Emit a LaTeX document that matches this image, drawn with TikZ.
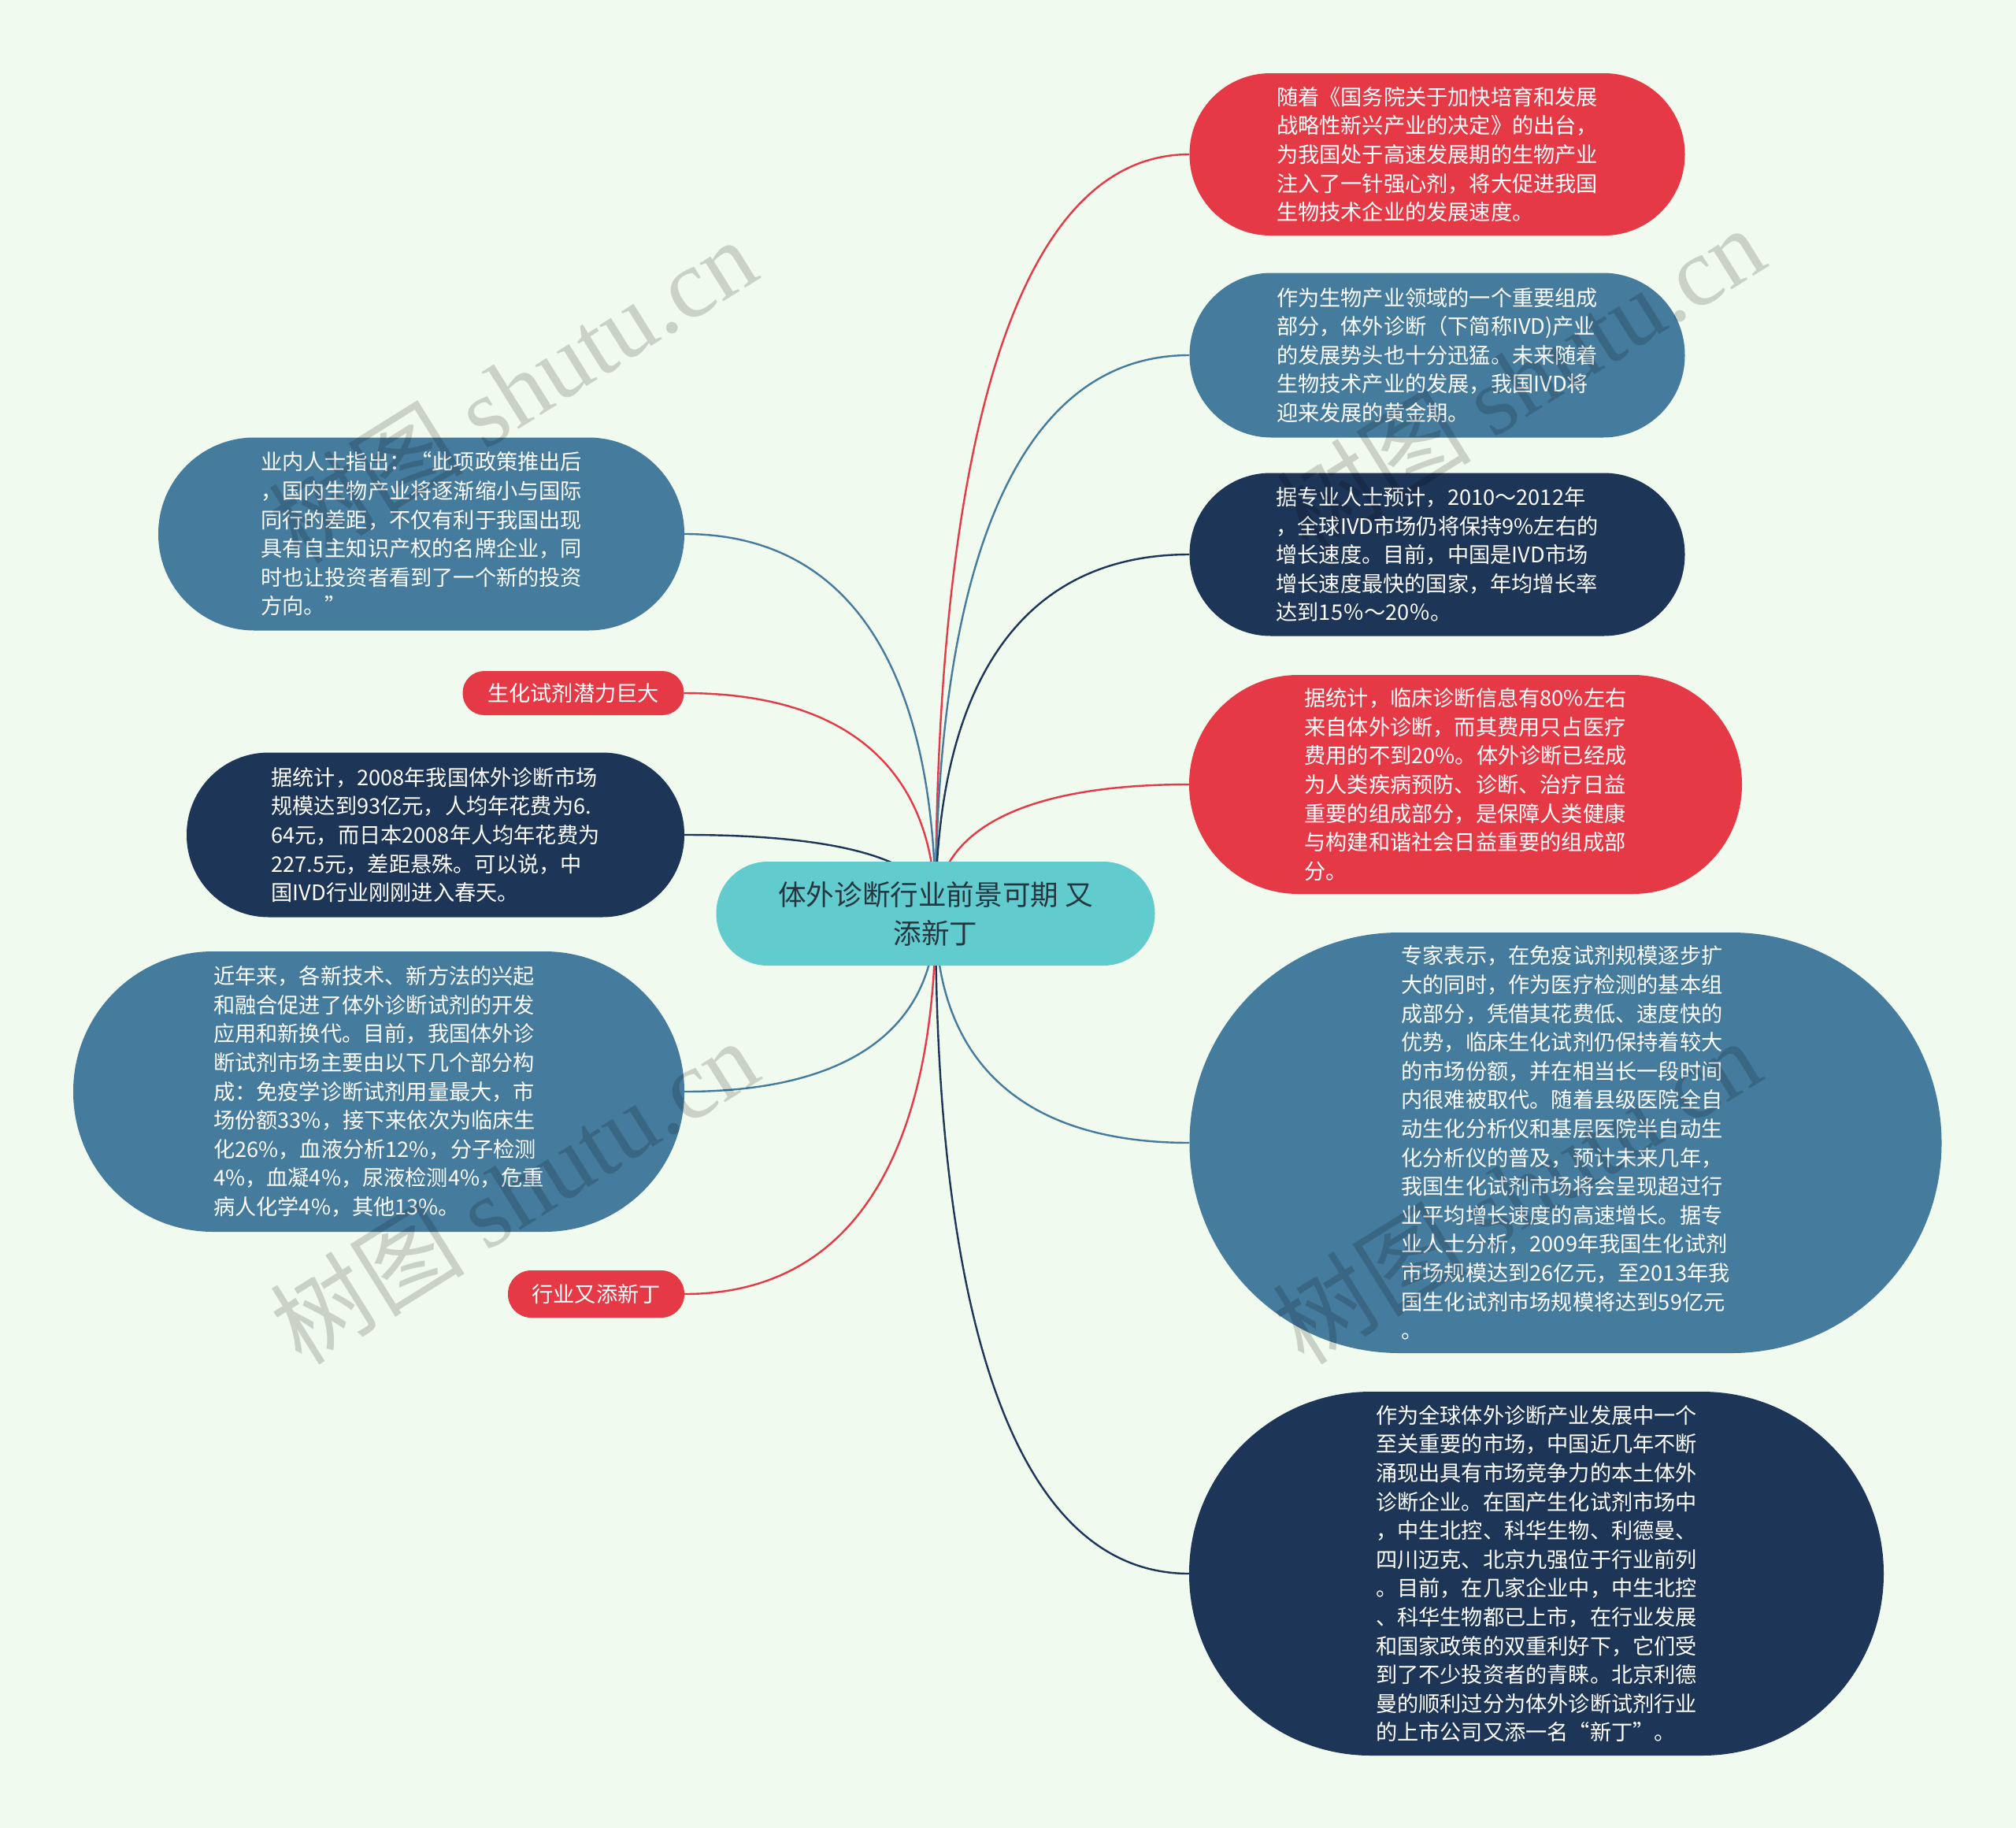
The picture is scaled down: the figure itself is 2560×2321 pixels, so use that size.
\documentclass[tikz,border=0pt]{standalone}
\usepackage{fontspec}
\setmainfont{Noto Sans CJK SC}
\newfontfamily\wmserif{Liberation Serif}
\usetikzlibrary{calc}
\definecolor{bgc}{HTML}{F1FAEE}
\definecolor{cred}{HTML}{E63946}
\definecolor{cblue}{HTML}{457B9D}
\definecolor{cnavy}{HTML}{1D3557}
\definecolor{cteal}{HTML}{62CBCE}
\definecolor{ctext}{HTML}{263640}
\pgfdeclarelayer{back}
\pgfdeclarelayer{bg}
\pgfsetlayers{back,bg,main}
\newcommand\bodyfont{\fontsize{27.2}{36.6}\selectfont}
\newcommand\linkto[3]{%
  \draw[link,#1] (root.center) .. controls ($(root.center)!0.6!(root.center |- #2.#3)$) and ($(#2.#3)!0.7!(root.center |- #2.#3)$) .. (#2.#3);}
\tikzset{
  pill/.style={rectangle, inner sep=0pt, text=white, align=left, font=\bodyfont},
  link/.style={line width=2.4pt},
  wm/.style={text=black, text opacity=0.16, inner sep=0pt, rotate=32, font=\fontsize{124}{124}\selectfont}
}
\begin{document}
\begin{tikzpicture}[x=1pt,y=-1pt]
\begin{pgfonlayer}{back}
\fill[bgc] (0,0) rectangle (2560,2321);
\end{pgfonlayer}
\useasboundingbox (0,0) rectangle (2560,2321);

% root
\node[rectangle, inner sep=0pt, fill=cteal, rounded corners=65.5pt, minimum width=557pt, minimum height=132pt, text=ctext, align=center, font=\fontsize{35.6}{49}\selectfont] (root) at (1188,1160) {体外诊断行业前景可期 又\\添新丁};

% right side
\node[pill, fill=cred, rounded corners=102.5pt, minimum width=629pt, minimum height=206pt] (r1) at (1825,196) {随着《国务院关于加快培育和发展\\战略性新兴产业的决定》的出台，\\为我国处于高速发展期的生物产业\\注入了一针强心剂，将大促进我国\\生物技术企业的发展速度。};

\node[pill, fill=cblue, rounded corners=104pt, minimum width=629pt, minimum height=209pt] (r2) at (1825,451) {作为生物产业领域的一个重要组成\\部分，体外诊断（下简称IVD)产业\\的发展势头也十分迅猛。未来随着\\生物技术产业的发展，我国IVD将\\迎来发展的黄金期。};

\node[pill, fill=cnavy, rounded corners=103pt, minimum width=629pt, minimum height=207pt] (r3) at (1825,704) {据专业人士预计，2010～2012年\\，全球IVD市场仍将保持9\%左右的\\增长速度。目前，中国是IVD市场\\增长速度最快的国家，年均增长率\\达到15％～20％。};

\node[pill, fill=cred, rounded corners=138.5pt, minimum width=702pt, minimum height=278pt] (r4) at (1861,996) {据统计，临床诊断信息有80\%左右\\来自体外诊断，而其费用只占医疗\\费用的不到20\%。体外诊断已经成\\为人类疾病预防、诊断、治疗日益\\重要的组成部分，是保障人类健康\\与构建和谐社会日益重要的组成部\\分。};

\node[pill, fill=cblue, rounded corners=266.5pt, minimum width=955pt, minimum height=534pt] (r5) at (1988,1451) {专家表示，在免疫试剂规模逐步扩\\大的同时，作为医疗检测的基本组\\成部分，凭借其花费低、速度快的\\优势，临床生化试剂仍保持着较大\\的市场份额，并在相当长一段时间\\内很难被取代。随着县级医院全自\\动生化分析仪和基层医院半自动生\\化分析仪的普及，预计未来几年，\\我国生化试剂市场将会呈现超过行\\业平均增长速度的高速增长。据专\\业人士分析，2009年我国生化试剂\\市场规模达到26亿元，至2013年我\\国生化试剂市场规模将达到59亿元\\。};

\node[pill, fill=cnavy, rounded corners=230.5pt, minimum width=882pt, minimum height=462pt] (r6) at (1951,1998) {作为全球体外诊断产业发展中一个\\至关重要的市场，中国近几年不断\\涌现出具有市场竞争力的本土体外\\诊断企业。在国产生化试剂市场中\\，中生北控、科华生物、利德曼、\\四川迈克、北京九强位于行业前列\\。目前，在几家企业中，中生北控\\、科华生物都已上市，在行业发展\\和国家政策的双重利好下，它们受\\到了不少投资者的青睐。北京利德\\曼的顺利过分为体外诊断试剂行业\\的上市公司又添一名“新丁”。};

% left side
\node[pill, fill=cblue, rounded corners=122pt, minimum width=668pt, minimum height=245pt] (l1) at (535,678) {业内人士指出：“此项政策推出后\\，国内生物产业将逐渐缩小与国际\\同行的差距，不仅有利于我国出现\\具有自主知识产权的名牌企业，同\\时也让投资者看到了一个新的投资\\方向。”};

\node[pill, fill=cred, rounded corners=27.5pt, minimum width=281pt, minimum height=56pt] (l2) at (728,880) {生化试剂潜力巨大};

\node[pill, fill=cnavy, rounded corners=104pt, minimum width=632pt, minimum height=209pt] (l3) at (553,1060) {据统计，2008年我国体外诊断市场\\规模达到93亿元，人均年花费为6.\\64元，而日本2008年人均年花费为\\227.5元，差距悬殊。可以说，中\\国IVD行业刚刚进入春天。};

\node[pill, fill=cblue, rounded corners=177.5pt, minimum width=776pt, minimum height=356pt] (l4) at (481,1386) {近年来，各新技术、新方法的兴起\\和融合促进了体外诊断试剂的开发\\应用和新换代。目前，我国体外诊\\断试剂市场主要由以下几个部分构\\成：免疫学诊断试剂用量最大，市\\场份额33\%，接下来依次为临床生\\化26\%，血液分析12\%，分子检测\\4\%，血凝4\%，尿液检测4\%，危重\\病人化学4\%，其他13\%。};

\node[pill, fill=cred, rounded corners=29.5pt, minimum width=224pt, minimum height=60pt] (l5) at (757,1643) {行业又添新丁};

% connectors
\begin{pgfonlayer}{bg}
\linkto{cred}{r1}{west}
\linkto{cblue}{r2}{west}
\linkto{cnavy}{r3}{west}
\linkto{cred}{r4}{west}
\linkto{cblue}{r5}{west}
\linkto{cnavy}{r6}{west}
\linkto{cblue}{l1}{east}
\linkto{cred}{l2}{east}
\linkto{cnavy}{l3}{east}
\linkto{cblue}{l4}{east}
\linkto{cred}{l5}{east}
\end{pgfonlayer}

% watermarks
\node[wm] (wm1) at (650,495) {树图 {\wmserif shutu.cn}};
\node[wm] (wm2) at (1930,480) {树图 {\wmserif shutu.cn}};
\node[wm] (wm3) at (652,1512) {树图 {\wmserif shutu.cn}};
\node[wm] (wm4) at (1925,1512) {树图 {\wmserif shutu.cn}};
\end{tikzpicture}
\end{document}
